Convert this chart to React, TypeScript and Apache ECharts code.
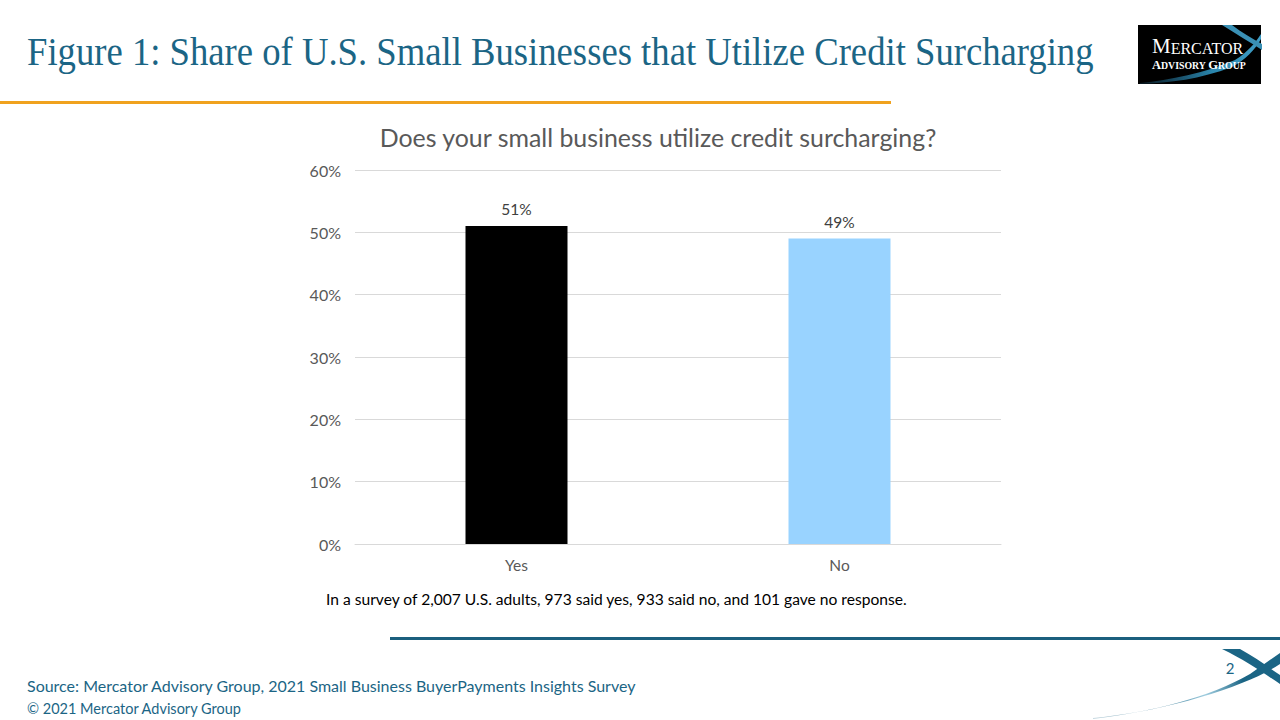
import React, { useEffect, useRef } from "react";
import * as echarts from "echarts";

const categories = ["Yes", "No"];
const shares = [51, 49];
const barColors = ["#000000", "#99D3FF"];
const yTicks = [0, 10, 20, 30, 40, 50, 60];

const slideTitle = "Figure 1: Share of U.S. Small Businesses that Utilize Credit Surcharging";
const chartTitle = "Does your small business utilize credit surcharging?";
const footnote = "In a survey of 2,007 U.S. adults, 973 said yes, 933 said no, and 101 gave no response.";
const sourceText = "Source: Mercator Advisory Group, 2021 Small Business BuyerPayments Insights Survey";
const copyright = "© 2021 Mercator Advisory Group";

let registered = false;
function registerShapes() {
  if (registered) return;
  registered = true;
  echarts.graphic.registerShape(
    "swooshA",
    echarts.graphic.extendPath(
      "M1093,718 C1150,713 1210,697 1250,674 L1280,653 L1280,664 C1250,684 1180,708 1093,719 Z",
      {}
    )
  );
  echarts.graphic.registerShape(
    "swooshB",
    echarts.graphic.extendPath(
      "M1222,649 L1240,649 C1255,657 1268,667 1280,675 L1280,684 C1262,672 1245,660 1222,649 Z",
      {}
    )
  );
  echarts.graphic.registerShape(
    "logoSwoosh",
    echarts.graphic.extendPath(
      "M1140,83 C1170,80 1205,73 1235,60 C1248,52 1256,42 1261,34 L1261,39 C1255,50 1245,60 1232,67 C1200,79 1170,83 1140,84 Z",
      {}
    )
  );
  echarts.graphic.registerShape(
    "logoArm",
    echarts.graphic.extendPath("M1222,25 L1232,25 C1242,33 1252,38 1262,44 L1262,50 C1250,42 1236,34 1222,25 Z", {})
  );
}

export default function App() {
  const ref = useRef<HTMLDivElement>(null);
  useEffect(() => {
    if (!ref.current) return;
    registerShapes();
    const chart = echarts.init(ref.current, undefined, { renderer: "svg" });
    chart.setOption({
      animation: false,
      backgroundColor: "#ffffff",
      title: {
        text: chartTitle,
        left: 653,
        textAlign: "center",
        top: 119,
        textStyle: { fontFamily: "Lato", fontSize: 24.9, fontWeight: "normal", color: "#595959" },
      },
      grid: { left: 355, right: 279, top: 170, bottom: 176, containLabel: false },
      xAxis: {
        type: "category",
        data: categories,
        axisLine: { lineStyle: { color: "#d9d9d9" } },
        axisTick: { show: false },
        axisLabel: { fontFamily: "Lato", fontSize: 15.5, color: "#595959", margin: 13 },
      },
      yAxis: {
        type: "value",
        min: 0,
        max: 60,
        interval: 10,
        axisLine: { show: false },
        axisTick: { show: false },
        splitLine: { lineStyle: { color: "#d9d9d9" } },
        axisLabel: {
          fontFamily: "Lato",
          fontSize: 16,
          color: "#595959",
          margin: 14,
          formatter: (v: number) => (yTicks.includes(v) ? v + "%" : ""),
        },
      },
      series: [
        {
          type: "bar",
          barWidth: 102,
          data: shares.map((v, i) => ({ value: v, itemStyle: { color: barColors[i] } })),
          label: {
            show: true,
            position: "top",
            distance: 9,
            formatter: "{c}%",
            fontFamily: "Lato",
            fontSize: 15.5,
            color: "#404040",
          },
        },
      ],
      graphic: [
        {
          type: "text",
          x: 27,
          y: 31,
          scaleX: 0.917,
          style: {
            text: slideTitle,
            font: "40px 'Liberation Serif'",
            fill: "#1B6585",
            verticalAlign: "top",
          },
        },
        { type: "rect", shape: { x: 0, y: 101, width: 891, height: 3 }, style: { fill: "#F0A21E" } },
        { type: "rect", shape: { x: 390, y: 637, width: 890, height: 3 }, style: { fill: "#1B5F7E" } },
        // logo
        { type: "rect", shape: { x: 1138, y: 25, width: 123, height: 59 }, style: { fill: "#000000" } },
        {
          type: "logoSwoosh",
          style: {
            fill: {
              type: "linear",
              x: 0,
              y: 0,
              x2: 1,
              y2: 0,
              colorStops: [
                { offset: 0, color: "rgba(40,120,160,0.2)" },
                { offset: 0.6, color: "#2A86AD" },
                { offset: 1, color: "#3E9CC4" },
              ],
            },
          },
        },
        { type: "logoArm", style: { fill: "#3A90B5" } },
        {
          type: "text",
          x: 1152,
          y: 46,
          style: {
            text: "{b|M}{s|ERCATOR}",
            fill: "#ffffff",
            verticalAlign: "middle",
            rich: {
              b: { fontFamily: "Liberation Serif", fontSize: 21, color: "#ffffff" },
              s: { fontFamily: "Liberation Serif", fontSize: 16, color: "#ffffff", verticalAlign: "bottom" },
            },
          },
        },
        {
          type: "text",
          x: 1152,
          y: 65,
          style: {
            text: "{b|A}{s|DVISORY }{b|G}{s|ROUP}",
            fill: "#ffffff",
            verticalAlign: "middle",
            rich: {
              b: { fontFamily: "Liberation Serif", fontSize: 12.5, color: "#ffffff", fontWeight: "bold" },
              s: { fontFamily: "Liberation Serif", fontSize: 9.8, color: "#ffffff", fontWeight: "bold" },
            },
          },
        },
        // bottom-right swoosh
        {
          type: "swooshA",
          style: {
            fill: {
              type: "linear",
              x: 0,
              y: 0,
              x2: 1,
              y2: 0,
              colorStops: [
                { offset: 0, color: "rgba(27,101,133,0.25)" },
                { offset: 0.35, color: "rgba(27,101,133,0.9)" },
                { offset: 0.6, color: "rgba(150,200,220,0.9)" },
                { offset: 0.8, color: "#1B6585" },
                { offset: 1, color: "#1B6585" },
              ],
            },
          },
        },
        { type: "swooshB", style: { fill: "#1B6585" } },
        {
          type: "text",
          x: 1230,
          y: 668,
          style: { text: "2", font: "15px Lato", fill: "#1B6585", align: "center", verticalAlign: "middle" },
        },
        {
          type: "text",
          x: 326,
          y: 599,
          style: { text: footnote, font: "15.6px Lato", fill: "#000000", verticalAlign: "middle" },
        },
        {
          type: "text",
          x: 27,
          y: 685,
          style: { text: sourceText, font: "16px Lato", fill: "#1B6585", verticalAlign: "middle" },
        },
        {
          type: "text",
          x: 27,
          y: 708,
          style: { text: copyright, font: "14.5px Lato", fill: "#1B6585", verticalAlign: "middle" },
        },
      ],
    });
    return () => chart.dispose();
  }, []);
  return <div ref={ref} style={{ position: "fixed", left: 0, top: 0, width: 1280, height: 720 }} />;
}
